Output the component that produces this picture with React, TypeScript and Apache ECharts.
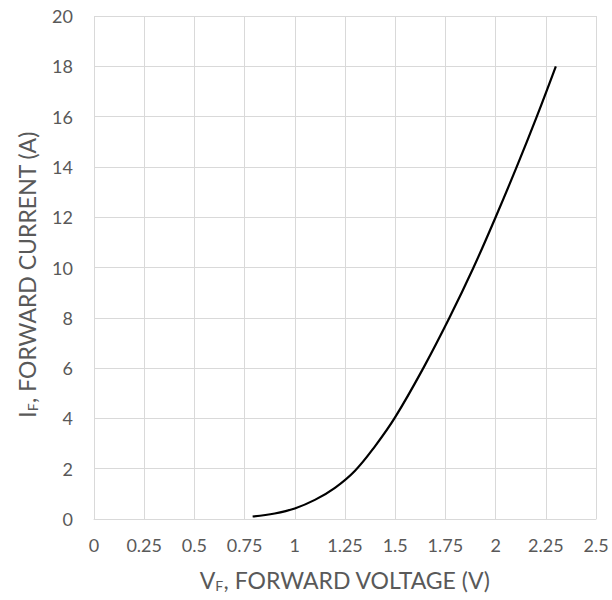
import React, { useEffect, useRef } from "react";
import * as echarts from "echarts";

const voltage = [0.79, 0.9, 1.0, 1.1, 1.2, 1.3, 1.4, 1.5, 1.64, 1.77, 1.89, 2.0, 2.105, 2.205, 2.3];
const current = [0.1, 0.22, 0.42, 0.76, 1.24, 1.92, 2.9, 4.05, 6, 8, 10, 12, 14, 16, 18];

const FONT = "Lato, 'Open Sans', sans-serif";
const TXT = "#595959";

export default function App() {
  const ref = useRef<HTMLDivElement>(null);
  useEffect(() => {
    const chart = echarts.init(ref.current!, null, { renderer: "svg" });
    const rich = {
      a: { fontSize: 23, color: TXT, fontFamily: FONT },
      s: { fontSize: 14, color: TXT, fontFamily: FONT, verticalAlign: "bottom", padding: [10, 0, 0, 0] },
    };
    chart.setOption({
      animation: false,
      grid: { left: 94, top: 16, right: 16, bottom: 81 },
      xAxis: {
        type: "value",
        min: 0,
        max: 2.5,
        interval: 0.25,
        axisLine: { show: true, lineStyle: { color: "#d9d9d9", width: 1 } },
        axisTick: { show: false },
        splitLine: { show: true, lineStyle: { color: "#d9d9d9", width: 1 } },
        axisLabel: { color: TXT, fontSize: 18, fontFamily: FONT, margin: 17 },
        name: "{a|V}{s|F}{a|, FORWARD VOLTAGE (V)}",
        nameLocation: "middle",
        nameGap: 49,
        nameTextStyle: { rich },
      },
      yAxis: {
        type: "value",
        min: 0,
        max: 20,
        interval: 2,
        axisLine: { show: false },
        axisTick: { show: false },
        splitLine: { show: true, lineStyle: { color: "#d9d9d9", width: 1 } },
        axisLabel: { color: TXT, fontSize: 18, fontFamily: FONT, margin: 21 },
        name: "{a|I}{s|F}{a|, FORWARD CURRENT (A)}",
        nameLocation: "middle",
        nameGap: 55,
        nameTextStyle: { rich, padding: [0, 0, 0, -14] },
      },
      series: [
        {
          type: "line",
          data: voltage.map((v, i) => [v, current[i]]),
          smooth: 0.4,
          showSymbol: false,
          lineStyle: { color: "#000", width: 2.2 },
        },
      ],
    });
    return () => chart.dispose();
  }, []);
  return <div ref={ref} style={{ width: 612, height: 600, position: "absolute", left: 0, top: 0 }} />;
}
